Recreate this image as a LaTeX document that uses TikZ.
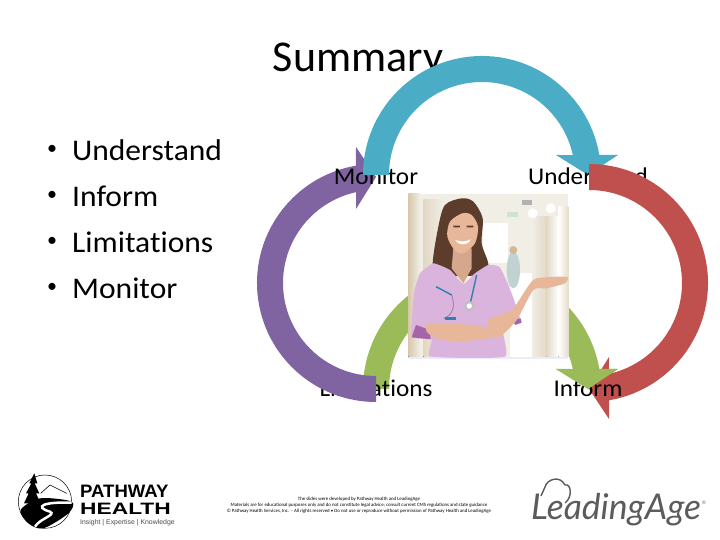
\documentclass[tikz,border=0pt]{standalone}
\usepackage{fontspec}
\setmainfont{Carlito}
\newfontfamily\slidefont[FakeStretch=1.05,Ligatures=NoCommon]{Carlito}
\newfontfamily\logoplain{Liberation Sans}
\newfontfamily\logoital{Lato}
\definecolor{arcblue}{HTML}{4BACC6}
\definecolor{arcred}{HTML}{C0504D}
\definecolor{arcgreen}{HTML}{9BBB59}
\definecolor{arcpurple}{HTML}{8064A2}
\definecolor{scrubs}{HTML}{DAB4DC}
\definecolor{scrubsdark}{HTML}{A565A8}
\definecolor{skin}{HTML}{E8B79A}
\definecolor{hair}{HTML}{5C3D2C}
\definecolor{pillar}{HTML}{D8C7AC}
\definecolor{paleback}{HTML}{F1EEE6}
\definecolor{steth}{HTML}{2F7FB5}
\definecolor{leadgray}{HTML}{5A5B5D}
\tikzset{
  cyclelabel/.style={font=\slidefont\fontsize{24}{26}\selectfont, inner sep=0pt},
  bulletline/.style={font=\slidefont\fontsize{30}{32}\selectfont, anchor=west, inner sep=0pt},
  bulletdot/.style={font=\fontsize{20}{22}\selectfont, inner sep=0pt},
  finetext/.style={font=\fontsize{4.85}{5}\selectfont, inner sep=0pt},
  logoword/.style={font=\logoplain\bfseries\fontsize{#1}{#1}\selectfont, anchor=west, inner sep=0pt},
}
% one quarter-turn block arrow of the cycle: centre x, centre y, rotation, colour
\newcommand{\cyclearrow}[4]{
  \fill[#4, shift={(#1,#2)}, rotate=#3] (-93,0) arc (180:12.4:93) -- (74,20) -- (106,0)
    -- (136,20) -- (9.7:119) arc (9.7:180:119) -- cycle;
}
\begin{document}
\begin{tikzpicture}[x=1pt,y=1pt]
\useasboundingbox (0,0) rectangle (720,540);

\node[font=\fontsize{44}{46}\selectfont, inner sep=0pt] (title) at (358,479) {Summary};

\foreach \name/\txt/\ypos in {understand/Understand/390, inform/Inform/344, limits/Limitations/298, monitor/Monitor/252}{
  \node[bulletdot] (dot\name) at (52,\ypos) {•};
  \node[bulletline] (\name) at (72,\ypos) {\txt};
}

% the four arrows overlap in a ring, so green comes twice
\cyclearrow{482}{151}{0}{arcgreen}
\node[cyclelabel] (lblLimits) at (376,152) {Limitations};
\cyclearrow{376}{257}{90}{arcpurple}
\node[cyclelabel] (lblMonitor) at (376,364) {Monitor};
\cyclearrow{482}{365}{0}{arcblue}
\node[cyclelabel] (lblUnderstand) at (588,364) {Understand};
\cyclearrow{589}{257}{-90}{arcred}
\node[cyclelabel] (lblInform) at (588,152) {Inform};
\fill[arcgreen] (556,171) -- (588,151) -- (618,171) -- cycle;

% photo, coordinates in crop pixels
\begin{scope}[shift={(400,360)}, x=0.3333pt, y=-0.3333pt]
  \fill[paleback] (25,42) rectangle (505,537);
  \fill[left color=pillar, right color=paleback] (25,42) rectangle (60,530);
  \fill[left color=pillar!60!paleback, right color=paleback] (70,60) rectangle (130,530);
  \fill[left color=paleback, right color=pillar!55!paleback] (395,110) rectangle (440,530);
  \fill[left color=pillar!55!paleback, right color=white] (440,110) rectangle (475,530);
  \fill[left color=white, right color=pillar!45!paleback] (475,80) rectangle (505,530);
  \fill[white] (250,130) rectangle (325,250);
  \fill[white] (330,280) rectangle (395,530);
  \fill[gray!60!teal!35!white] (340,270) ellipse (20 and 55);
  \fill[pillar!80!brown] (340,210) circle (12);
  \fill[green!30!gray!30!white] (322,95) rectangle (355,112);
  \fill[gray!60!white] (365,60) rectangle (395,75);
  \fill[white] (398,100) circle (15) (452,85) circle (15);
  \fill[blue!8!white] (25,530) rectangle (505,537);
  % hair
  \fill[hair] plot[smooth cycle] coordinates {(185,55) (135,75) (115,140) (98,250) (108,320) (160,290) (235,285) (265,255) (245,190) (248,115) (220,65)};
  % neck
  \fill[skin!92!black] (160,205) -- (215,205) -- (215,265) -- (190,310) -- (155,265) -- cycle;
  % scrubs
  \fill[scrubs] plot[smooth cycle, tension=0.25] coordinates {(100,250) (60,280) (42,340) (35,470) (95,478) (92,530) (315,530) (305,435) (362,428) (335,340) (300,262) (265,255) (225,280) (190,312) (150,270)};
  \fill[scrubsdark] (35,472) -- (48,435) -- (90,450) -- (92,478) -- cycle;
  \fill[scrubsdark] (340,420) -- (362,415) -- (365,428) -- (345,435) -- cycle;
  % forearms and hand
  \fill[skin] plot[smooth cycle, tension=0.4] coordinates {(85,430) (180,432) (275,445) (285,470) (180,485) (110,475) (80,455)};
  \fill[skin] plot[smooth cycle, tension=0.4] coordinates {(265,420) (335,390) (385,318) (410,295) (500,290) (495,310) (440,325) (400,330) (350,420) (300,470) (275,465)};
  % stethoscope
  \draw[line width=1.4pt, steth] (108,320) -- (155,345) (230,285) -- (212,365);
  \draw[line width=0.7pt, gray!60!scrubsdark] (155,345) .. controls (170,390) and (150,410) .. (130,415);
  \fill[gray!50!white] (208,378) circle (15);
  \fill[white] (208,378) circle (8);
  \fill[steth] (135,412) rectangle (168,420);
  % face
  \fill[skin] plot[smooth cycle] coordinates {(187,100) (150,125) (142,170) (165,212) (190,220) (225,190) (234,140) (215,105)};
  \fill[hair] (160,137) rectangle (180,142) (200,137) rectangle (220,142);
  \fill[white] (165,180) .. controls (185,186) and (195,186) .. (212,178) .. controls (205,198) and (175,198) .. (165,180) -- cycle;
\end{scope}

% pathway health logo, coordinates in crop pixels
\begin{scope}[shift={(0,80)}, x=0.3333pt, y=-0.3333pt]
  \draw[line width=0.5pt] (135,125) circle (80);
  \fill[black] plot[smooth cycle] coordinates {(62,150) (120,115) (215,125) (205,160) (130,205) (85,190)};
  \draw[white, line width=2.5pt] (215,128) .. controls (130,125) and (100,140) .. (150,155) .. controls (170,165) and (120,175) .. (105,200);
  \fill[black] (103,40) -- (112,70) -- (104,70) -- (118,100) -- (108,100) -- (122,130) -- (72,130) -- (86,100) -- (78,100) -- (94,70) -- (88,70) -- cycle;
  \draw[line width=0.6pt] (122,100) -- (150,75) -- (200,100);
\end{scope}
\node[logoword=18] (pathway) at (80,48.5) {\scalebox{1.03}[1]{PATHWAY}};
\node[logoword=16.5] (health) at (80,31.5) {\scalebox{1.38}[1]{HEALTH}};
\node[font=\logoplain\fontsize{6.9}{8}\selectfont, text=black!70, anchor=west, inner sep=0pt] (tagline) at (80,17.5) {Insight | Expertise | Knowledge};

% leadingage logo
\node[font=\logoital\itshape\fontsize{35.5}{36}\selectfont, text=leadgray, anchor=base west, inner sep=0pt] (leading) at (531,20) {LeadingAge};
\node[font=\logoplain\fontsize{5}{5}\selectfont, text=leadgray, inner sep=0pt] (regmark) at (704,37) {®};
\draw[leadgray, line width=1.4pt] (541,44) -- (545,53) .. controls (547,61) and (560,65) .. (565,55) .. controls (571,57) and (573,43) .. (565,37);

\node[finetext] (fineA) at (359,41) {The slides were developed by Pathway Health and LeadingAge};
\node[finetext] (fineB) at (359,35) {Materials are for educational purposes only and do not constitute legal advice; consult current CMS regulations and state guidance};
\node[finetext] (fineC) at (359,29) {© Pathway Health Services, Inc. – All rights reserved • Do not use or reproduce without permission of Pathway Health and LeadingAge};
\end{tikzpicture}
\end{document}
